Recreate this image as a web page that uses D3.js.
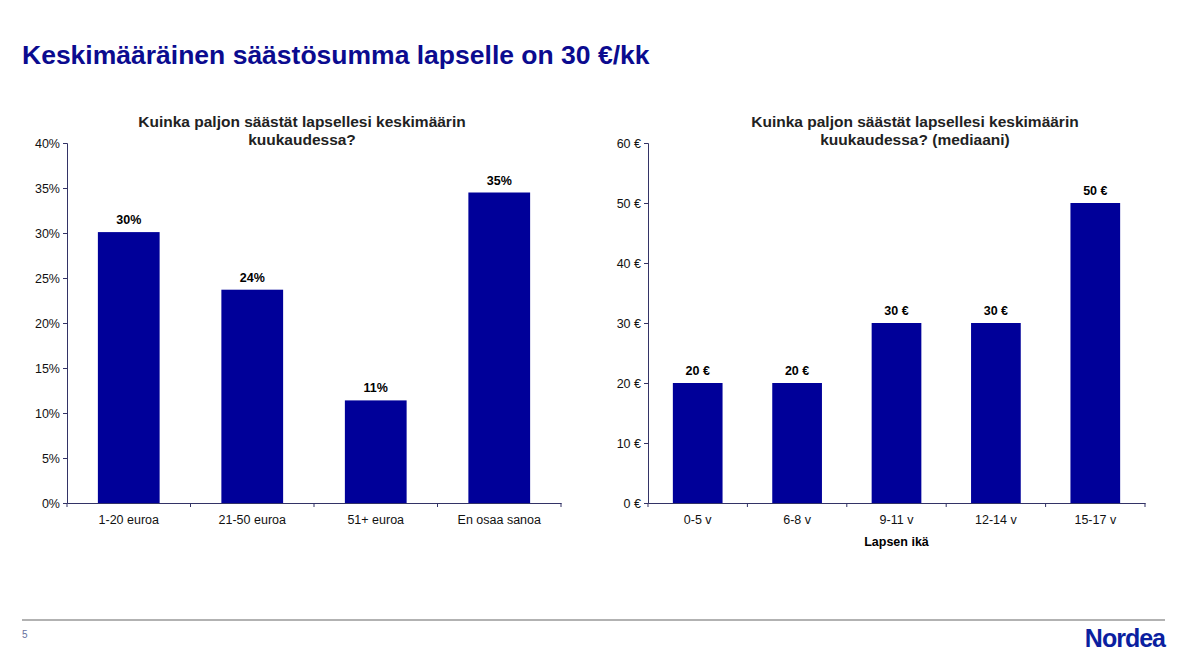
<!DOCTYPE html>
<html><head><meta charset="utf-8">
<script src="https://cdn.jsdelivr.net/npm/d3@7"></script>
<style>body{margin:0;background:#fff;font-family:"Liberation Sans",Arial,sans-serif}</style>
</head><body><svg id="c" width="1198" height="662"></svg>
<script>
const leftCats=["1-20 euroa","21-50 euroa","51+ euroa","En osaa sanoa"];
const leftVals=[30.1,23.7,11.4,34.5];
const leftLabels=["30%","24%","11%","35%"];
const leftTicks=[0,5,10,15,20,25,30,35,40];
const rightCats=["0-5 v","6-8 v","9-11 v","12-14 v","15-17 v"];
const rightVals=[20,20,30,30,50];
const rightLabels=["20 €","20 €","30 €","30 €","50 €"];
const rightTicks=[0,10,20,30,40,50,60];
const blue="#000099";
const svg=d3.select("#c");
svg.append("text").attr("x",22).attr("y",64).attr("font-size",26.5).attr("font-weight","bold").attr("fill","#0b0b8f").text("Keskimääräinen säästösumma lapselle on 30 €/kk");
svg.append("line").attr("x1",22).attr("x2",1165).attr("y1",620).attr("y2",620).attr("stroke","#999").attr("stroke-width",1.5);
svg.append("text").attr("x",22).attr("y",638).attr("font-size",10).attr("fill","#6670a0").text("5");
svg.append("text").attr("x",1165).attr("y",647).attr("text-anchor","end").attr("font-size",25).attr("font-weight","bold").attr("fill","#0b1fa0").attr("letter-spacing","-1").text("Nordea");

function chart(x0,x1,cats,vals,labels,ticks,max,fmt,title,titleX,xlabel){
  const y=d3.scaleLinear().domain([0,max]).range([503,143]);
  const x=d3.scaleBand().domain(cats).range([x0,x1]).paddingInner(0.5).paddingOuter(0.25);
  const g=svg.append("g");
  g.selectAll("rect").data(vals).join("rect").attr("x",(d,i)=>x(cats[i])).attr("width",x.bandwidth())
   .attr("y",d=>y(d)).attr("height",d=>503-y(d)).attr("fill",blue);
  g.selectAll("text.l").data(vals).join("text").attr("class","l").attr("x",(d,i)=>x(cats[i])+x.bandwidth()/2)
   .attr("y",d=>y(d)-8).attr("text-anchor","middle").attr("font-size",12.5).attr("font-weight","bold").text((d,i)=>labels[i]);
  const ya=g.append("g").attr("transform",`translate(${x0},0)`).call(d3.axisLeft(y).tickValues(ticks).tickFormat(fmt).tickSize(4));
  const xa=g.append("g").attr("transform","translate(0,503)").call(d3.axisBottom(x).tickSize(0));
  [ya,xa].forEach(a=>{a.select(".domain").attr("stroke","#333366");a.selectAll("text").attr("font-size",12.5).attr("fill","#111").attr("font-family","Liberation Sans, Arial");a.selectAll("line").attr("stroke","#333366");});
  xa.selectAll("text").attr("dy","1.4em");
  const step=x.step();
  cats.forEach((c,i)=>{const bx=x(c)-(step-x.bandwidth())/2;g.append("line").attr("x1",bx).attr("x2",bx).attr("y1",503).attr("y2",507).attr("stroke","#333366");});
  g.append("line").attr("x1",x1).attr("x2",x1).attr("y1",503).attr("y2",507).attr("stroke","#333366");
  const cx=(x0+x1)/2;
  title.forEach((t,i)=>g.append("text").attr("x",titleX).attr("y",127+i*18).attr("text-anchor","middle").attr("font-size",15.5).attr("font-weight","bold").attr("fill","#222").text(t));
  if(xlabel) g.append("text").attr("x",cx).attr("y",546).attr("text-anchor","middle").attr("font-size",12.5).attr("font-weight","bold").text(xlabel);
}
chart(67,561,leftCats,leftVals,leftLabels,leftTicks,40,d=>d+"%",["Kuinka paljon säästät lapsellesi keskimäärin","kuukaudessa?"],302,null);
chart(648,1145,rightCats,rightVals,rightLabels,rightTicks,60,d=>d+" €",["Kuinka paljon säästät lapsellesi keskimäärin","kuukaudessa? (mediaani)"],915,"Lapsen ikä");
</script></body></html>
